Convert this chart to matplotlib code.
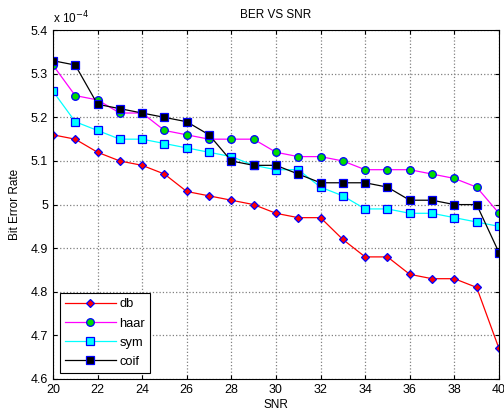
import matplotlib
matplotlib.use('Agg')
import matplotlib.pyplot as plt

plt.rcParams['font.family'] = ['Liberation Sans', 'DejaVu Sans']

# SNR (dB)
snr = list(range(20, 41))
# BER values, in units of 1e-4
db = [5.16, 5.15, 5.12, 5.10, 5.09, 5.07, 5.03, 5.02, 5.01, 5.00, 4.98,
      4.97, 4.97, 4.92, 4.88, 4.88, 4.84, 4.83, 4.83, 4.81, 4.67]
haar = [5.32, 5.25, 5.24, 5.21, 5.21, 5.17, 5.16, 5.15, 5.15, 5.15, 5.12,
        5.11, 5.11, 5.10, 5.08, 5.08, 5.08, 5.07, 5.06, 5.04, 4.98]
sym = [5.26, 5.19, 5.17, 5.15, 5.15, 5.14, 5.13, 5.12, 5.11, 5.09, 5.08,
       5.08, 5.04, 5.02, 4.99, 4.99, 4.98, 4.98, 4.97, 4.96, 4.95]
coif = [5.33, 5.32, 5.23, 5.22, 5.21, 5.20, 5.19, 5.16, 5.10, 5.09, 5.09,
        5.07, 5.05, 5.05, 5.05, 5.04, 5.01, 5.01, 5.00, 5.00, 4.89]

fig = plt.figure(figsize=(5.04, 4.19), dpi=100)
ax = fig.add_axes([0.105, 0.0955, 0.885, 0.8325])

ax.plot(snr, db, '-', color='red', lw=0.9, marker='D', ms=4,
        mfc='red', mec='blue', mew=0.9, label='db')
ax.plot(snr, haar, '-', color='magenta', lw=0.9, marker='o', ms=5.5,
        mfc='#00dd00', mec='blue', mew=0.9, label='haar')
ax.plot(snr, sym, '-', color='cyan', lw=0.9, marker='s', ms=5.5,
        mfc='cyan', mec='blue', mew=0.9, label='sym')
ax.plot(snr, coif, '-', color='black', lw=0.9, marker='s', ms=5.5,
        mfc='black', mec='blue', mew=0.9, label='coif')

ax.set_xlim(20, 40)
ax.set_ylim(4.6, 5.4)
ax.set_xticks(range(20, 41, 2))
ax.set_yticks([4.6, 4.7, 4.8, 4.9, 5.0, 5.1, 5.2, 5.3, 5.4])
ax.set_yticklabels(['4.6', '4.7', '4.8', '4.9', '5', '5.1', '5.2', '5.3', '5.4'])
ax.grid(True, color='#808080', ls=':', lw=0.9)
ax.tick_params(direction='in', top=True, right=True, labelsize=9, length=3)
for s in ax.spines.values():
    s.set_linewidth(0.8)

ax.set_title('BER VS SNR', fontsize=8.5, pad=9)
ax.set_xlabel('SNR', fontsize=8.5, labelpad=2)
ax.set_ylabel('Bit Error Rate', fontsize=8.5, labelpad=7)
ax.text(0.0, 1.012, r'x 10$^{-4}$', transform=ax.transAxes, fontsize=8.5,
        ha='left', va='bottom')

leg = ax.legend(loc='lower left', bbox_to_anchor=(0.016, 0.017),
                borderaxespad=0, fontsize=9.3,
                fancybox=False, edgecolor='black', framealpha=1,
                handlelength=3.9, borderpad=0.4, labelspacing=0.55,
                handletextpad=0.3)
leg.get_frame().set_linewidth(0.8)

fig.savefig('out.png', dpi=100)
